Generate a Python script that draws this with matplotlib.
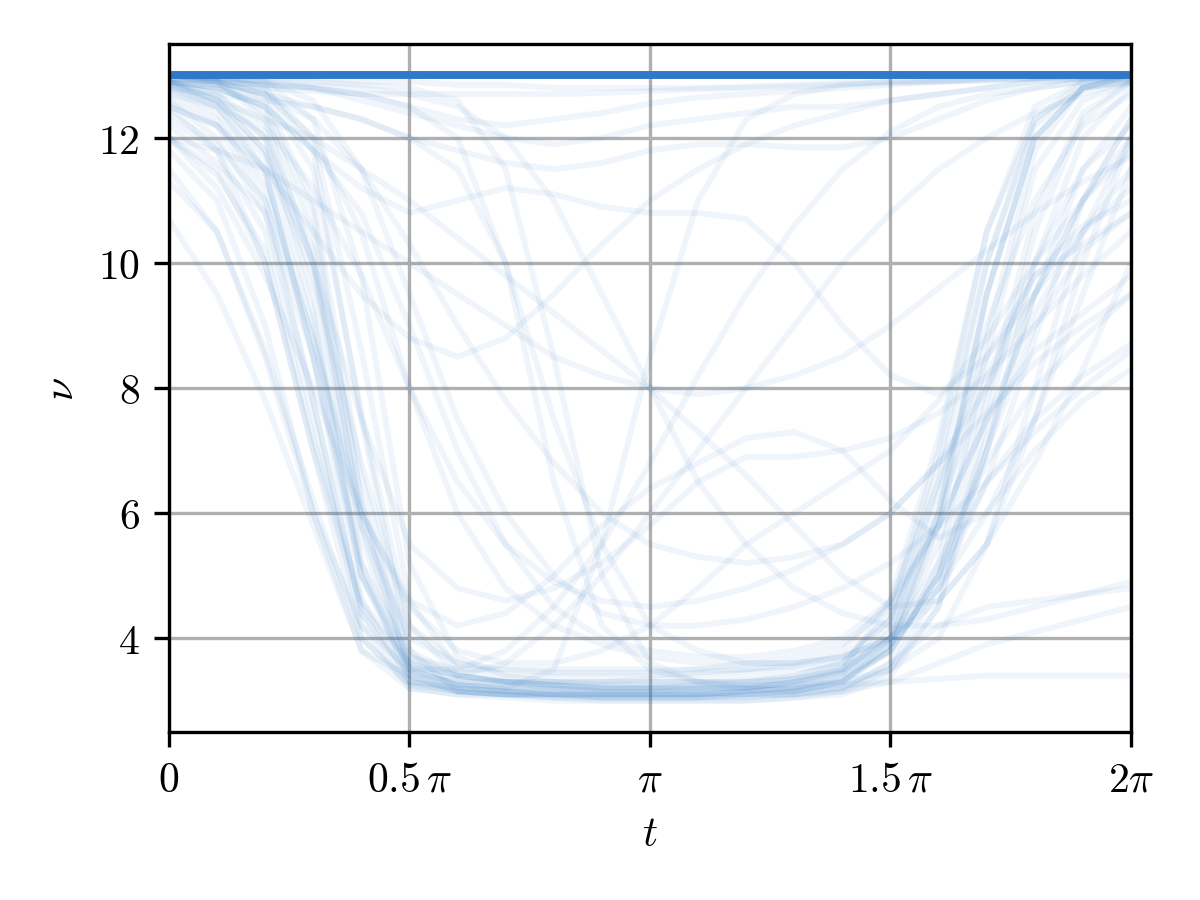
import numpy as np
import matplotlib
matplotlib.use("Agg")
import matplotlib.pyplot as plt

plt.rcParams["mathtext.fontset"] = "cm"
plt.rcParams["font.family"] = "serif"
plt.rcParams["font.serif"] = ["cmr10", "DejaVu Serif"]
plt.rcParams["axes.formatter.use_mathtext"] = True
plt.rcParams["font.size"] = 10

# sample times in units of pi
t_pi = [0.0, 0.1, 0.2, 0.3, 0.4, 0.5, 0.6, 0.7, 0.8, 0.9, 1.0,
        1.1, 1.2, 1.3, 1.4, 1.5, 1.6, 1.7, 1.8, 1.9, 2.0]

# reference trajectory
nu_ref = [13.0] * len(t_pi)

# sampled trajectories: deep U-shaped ones
u_runs = [
    [13.0, 13.0, 12.8, 11.8, 7.5, 3.8, 3.15, 3.1, 3.05, 3.0, 3.0, 3.0, 3.0, 3.05, 3.1, 3.4, 4.5, 7.5, 10.5, 12.3, 12.9],
    [13.0, 12.9, 12.3, 10.0, 5.6, 3.4, 3.15, 3.1, 3.1, 3.05, 3.05, 3.05, 3.1, 3.1, 3.2, 3.6, 5.2, 8.5, 11.5, 12.6, 12.9],
    [12.9, 12.7, 12.0, 9.5, 5.2, 3.3, 3.15, 3.1, 3.1, 3.1, 3.1, 3.1, 3.1, 3.15, 3.3, 3.9, 6.0, 9.5, 12.0, 12.8, 13.0],
    [12.8, 12.4, 11.5, 8.5, 4.6, 3.3, 3.2, 3.15, 3.1, 3.1, 3.1, 3.1, 3.15, 3.2, 3.35, 3.8, 5.0, 7.2, 9.5, 11.0, 12.0],
    [12.6, 12.2, 11.0, 7.8, 4.4, 3.4, 3.25, 3.2, 3.2, 3.15, 3.15, 3.2, 3.2, 3.3, 3.5, 4.2, 6.3, 9.0, 11.0, 12.2, 12.7],
    [12.3, 11.8, 10.5, 7.5, 4.2, 3.2, 3.1, 3.05, 3.0, 3.0, 3.0, 3.0, 3.0, 3.05, 3.15, 3.5, 4.8, 7.0, 9.0, 10.2, 10.8],
    [12.0, 11.5, 10.0, 7.0, 4.0, 3.25, 3.15, 3.1, 3.1, 3.05, 3.05, 3.05, 3.1, 3.15, 3.3, 3.9, 5.5, 8.0, 10.0, 11.5, 12.2],
    [11.8, 11.0, 9.0, 6.0, 3.8, 3.4, 3.3, 3.3, 3.25, 3.2, 3.2, 3.25, 3.3, 3.4, 3.6, 4.3, 6.0, 8.2, 9.8, 10.6, 11.0],
    [11.3, 10.5, 8.6, 6.2, 4.0, 3.3, 3.2, 3.15, 3.1, 3.1, 3.1, 3.1, 3.15, 3.2, 3.4, 4.0, 5.2, 6.8, 8.0, 8.8, 9.5],
    [10.7, 9.5, 7.8, 5.8, 3.8, 3.2, 3.1, 3.1, 3.1, 3.1, 3.1, 3.1, 3.1, 3.15, 3.3, 3.8, 5.0, 6.5, 7.5, 8.2, 8.7],
    [13.0, 12.9, 12.6, 11.0, 6.6, 3.8, 3.4, 3.3, 3.3, 3.3, 3.35, 3.4, 3.45, 3.5, 3.6, 4.0, 5.8, 8.8, 11.8, 12.8, 13.0],
    [12.9, 12.8, 12.5, 10.8, 6.2, 3.7, 3.5, 3.5, 3.45, 3.45, 3.45, 3.5, 3.5, 3.55, 3.7, 4.3, 6.8, 10.0, 12.3, 12.9, 13.0],
    [12.7, 12.5, 12.1, 10.2, 5.8, 3.5, 3.25, 3.2, 3.2, 3.2, 3.2, 3.2, 3.2, 3.3, 3.5, 4.6, 7.2, 10.5, 12.3, 12.8, 12.9],
    [12.5, 12.2, 11.4, 9.0, 5.0, 3.5, 3.35, 3.3, 3.3, 3.3, 3.3, 3.3, 3.3, 3.35, 3.5, 3.9, 4.8, 6.0, 7.0, 7.8, 8.3],
    [13.0, 12.95, 12.8, 12.0, 8.6, 4.6, 3.5, 3.3, 3.2, 3.15, 3.15, 3.15, 3.2, 3.25, 3.4, 3.8, 5.0, 7.8, 10.8, 12.4, 12.9],
    [12.95, 12.9, 12.7, 11.5, 7.6, 4.2, 3.4, 3.3, 3.25, 3.2, 3.2, 3.2, 3.2, 3.3, 3.45, 4.0, 6.0, 9.5, 12.0, 12.8, 13.0],
    [12.2, 11.6, 10.8, 8.5, 5.2, 3.7, 3.4, 3.3, 3.3, 3.25, 3.25, 3.3, 3.3, 3.35, 3.5, 4.0, 4.6, 5.5, 6.8, 8.3, 10.0],
    [12.9, 12.6, 11.8, 9.2, 5.0, 3.4, 3.15, 3.1, 3.05, 3.05, 3.05, 3.05, 3.05, 3.1, 3.2, 3.6, 4.2, 4.5, 4.6, 4.7, 4.8],
    [12.6, 12.0, 10.8, 7.8, 4.4, 3.3, 3.2, 3.15, 3.1, 3.1, 3.1, 3.1, 3.1, 3.1, 3.15, 3.3, 3.6, 3.9, 4.1, 4.3, 4.5],
    [12.0, 11.4, 10.2, 7.2, 4.6, 3.6, 3.4, 3.3, 3.25, 3.2, 3.2, 3.2, 3.2, 3.2, 3.25, 3.3, 3.35, 3.4, 3.4, 3.4, 3.4],
    [13.0, 13.0, 12.9, 12.3, 9.8, 5.2, 3.7, 3.4, 3.3, 3.3, 3.3, 3.3, 3.35, 3.4, 3.6, 4.4, 7.0, 10.5, 12.5, 12.9, 13.0],
    [12.8, 12.5, 11.7, 9.8, 6.8, 4.2, 3.6, 3.4, 3.4, 3.4, 3.4, 3.45, 3.5, 3.6, 3.8, 4.6, 6.5, 8.5, 9.8, 10.3, 10.8],
    [12.4, 11.9, 11.0, 8.8, 5.8, 4.0, 3.6, 3.5, 3.5, 3.5, 3.5, 3.5, 3.6, 3.7, 3.9, 4.5, 5.8, 7.5, 8.6, 9.2, 9.8],
    [13.0, 12.9, 12.4, 10.5, 6.2, 3.5, 3.25, 3.2, 3.15, 3.1, 3.1, 3.1, 3.15, 3.2, 3.3, 3.8, 5.8, 9.5, 12.0, 12.8, 12.95],
    [12.85, 12.6, 12.0, 10.0, 6.0, 3.5, 3.25, 3.2, 3.2, 3.2, 3.2, 3.2, 3.25, 3.3, 3.45, 4.1, 6.5, 10.0, 12.2, 12.8, 12.9],
]

# slower descents, late drops, rising and wandering trajectories
other_runs = [
    [13.0, 12.9, 12.7, 12.0, 10.5, 8.0, 6.0, 4.8, 4.2, 3.9, 3.7, 3.6, 3.6, 3.6, 3.7, 4.0, 5.0, 7.0, 9.5, 11.5, 12.5],
    [12.9, 12.8, 12.5, 11.8, 10.8, 9.0, 7.0, 5.5, 4.5, 4.0, 3.8, 3.7, 3.7, 3.8, 4.0, 4.6, 5.8, 7.5, 9.2, 10.5, 11.5],
    [12.9, 12.7, 12.2, 11.2, 9.8, 8.0, 6.5, 5.5, 4.9, 4.6, 4.5, 4.6, 4.8, 5.1, 5.5, 6.0, 6.8, 7.6, 8.4, 9.0, 9.5],
    [13.0, 12.95, 12.9, 12.6, 11.5, 9.5, 7.5, 6.0, 5.0, 4.4, 4.2, 4.2, 4.3, 4.5, 4.8, 5.2, 5.8, 6.5, 7.3, 8.0, 8.6],
    [13.0, 13.0, 12.95, 12.9, 12.85, 12.8, 12.6, 11.5, 8.5, 5.0, 3.6, 3.3, 3.2, 3.15, 3.2, 3.5, 4.5, 7.0, 10.0, 12.0, 12.8],
    [12.95, 12.9, 12.85, 12.8, 12.7, 12.5, 12.0, 10.0, 6.5, 4.2, 3.5, 3.3, 3.25, 3.25, 3.3, 3.5, 4.0, 5.5, 8.0, 10.5, 12.0],
    [12.8, 12.7, 12.6, 12.5, 12.3, 12.0, 11.5, 10.0, 7.5, 5.5, 4.2, 3.8, 3.6, 3.6, 3.7, 4.0, 4.8, 6.5, 8.8, 11.0, 12.3],
    [12.5, 11.8, 10.0, 7.0, 4.5, 3.6, 3.4, 3.6, 4.2, 5.0, 6.0, 7.0, 8.0, 9.0, 10.0, 10.8, 11.5, 12.0, 12.4, 12.7, 12.9],
    [11.5, 10.5, 8.5, 6.0, 4.2, 3.5, 3.5, 3.8, 4.5, 5.5, 6.8, 8.2, 9.5, 10.6, 11.5, 12.1, 12.5, 12.7, 12.8, 12.9, 12.95],
    [12.0, 11.2, 9.8, 8.0, 6.0, 4.5, 3.8, 3.6, 3.6, 3.8, 4.2, 4.8, 5.5, 6.0, 6.5, 7.0, 7.8, 8.8, 10.0, 11.0, 11.8],
    [12.9, 12.5, 11.5, 8.5, 5.0, 3.6, 3.3, 3.2, 3.5, 5.5, 8.5, 11.0, 12.3, 12.7, 12.85, 12.9, 12.9, 12.95, 12.95, 13.0, 13.0],
    [13.0, 13.0, 12.98, 12.95, 12.9, 12.9, 12.85, 12.85, 12.8, 12.8, 12.8, 12.8, 12.82, 12.85, 12.88, 12.9, 12.92, 12.95, 12.97, 12.98, 13.0],
    [12.9, 12.85, 12.8, 12.75, 12.7, 12.7, 12.7, 12.7, 12.7, 12.72, 12.75, 12.78, 12.8, 12.82, 12.85, 12.88, 12.9, 12.92, 12.95, 12.95, 12.97],
    [12.9, 12.8, 12.5, 11.8, 11.2, 10.8, 11.0, 11.2, 11.1, 10.9, 10.8, 10.8, 10.7, 10.0, 9.0, 8.2, 7.9, 8.5, 9.5, 10.5, 11.2],
    [12.9, 12.8, 12.7, 12.5, 12.3, 12.0, 11.8, 11.6, 11.5, 11.6, 11.8, 11.9, 11.9, 11.85, 11.85, 12.0, 12.3, 12.6, 12.8, 12.9, 13.0],
    [13.0, 12.95, 12.9, 12.8, 12.6, 12.4, 12.2, 12.0, 11.9, 12.0, 12.2, 12.3, 12.4, 12.5, 12.5, 12.6, 12.7, 12.8, 12.9, 12.95, 13.0],
    [12.95, 12.9, 12.85, 12.8, 12.7, 12.5, 12.3, 12.2, 12.3, 12.4, 12.55, 12.65, 12.7, 12.75, 12.8, 12.85, 12.9, 12.92, 12.95, 12.97, 13.0],
    [12.0, 11.8, 11.5, 11.0, 10.5, 10.0, 9.5, 9.0, 8.5, 8.2, 8.0, 7.9, 8.0, 8.2, 8.5, 9.0, 9.6, 10.2, 10.8, 11.3, 11.7],
    [13.0, 12.95, 12.9, 12.85, 12.8, 12.7, 12.5, 12.0, 11.0, 9.5, 8.0, 6.5, 5.5, 4.8, 4.4, 4.2, 4.2, 4.3, 4.5, 4.7, 4.9],
    [12.8, 12.6, 12.3, 12.0, 11.5, 11.0, 10.4, 9.8, 9.2, 8.6, 8.0, 7.3, 6.6, 5.8, 5.0, 4.5, 4.6, 5.5, 7.5, 10.0, 12.0],
    [12.5, 12.2, 11.5, 10.5, 9.5, 8.8, 8.5, 8.8, 9.5, 10.3, 11.0, 11.5, 11.9, 12.2, 12.4, 12.6, 12.7, 12.8, 12.9, 12.95, 13.0],
    [13.0, 12.9, 12.7, 12.3, 11.5, 10.3, 9.0, 7.8, 6.8, 6.0, 5.5, 5.3, 5.2, 5.3, 5.5, 6.0, 6.8, 8.0, 9.5, 11.0, 12.3],
    [12.9, 12.6, 11.8, 10.0, 7.5, 5.5, 4.8, 4.6, 4.8, 5.2, 5.8, 6.5, 6.9, 6.9, 7.0, 7.2, 7.6, 8.2, 9.0, 9.8, 10.5],
    [12.7, 12.3, 11.2, 8.8, 6.0, 4.6, 4.2, 4.4, 5.0, 5.8, 6.4, 6.8, 7.2, 7.3, 7.0, 6.2, 5.6, 6.0, 7.5, 9.5, 11.5],
]

line_color = "#3079c6"
t = np.array(t_pi) * np.pi

fig = plt.figure(figsize=(4.0, 3.003), dpi=300)
ax = fig.add_axes([0.1408, 0.1865, 0.8017, 0.7635])

for run in u_runs + other_runs:
    ax.plot(t, run, color=line_color, alpha=0.075, lw=1.4)
ax.plot(t, nu_ref, color=line_color, lw=1.9)

ax.set_xlim(0, 2 * np.pi)
ax.set_ylim(2.5, 13.5)
ax.set_xticks([0, 0.5 * np.pi, np.pi, 1.5 * np.pi, 2 * np.pi])
ax.set_xticklabels([r"$0$", r"$0.5\,\pi$", r"$\pi$", r"$1.5\,\pi$", r"$2\pi$"])
ax.set_yticks([4, 6, 8, 10, 12])
ax.set_yticklabels([r"$4$", r"$6$", r"$8$", r"$10$", r"$12$"])
ax.set_xlabel(r"$t$")
ax.set_ylabel(r"$\nu$")
ax.grid(True, color="#b0b0b0", lw=0.8)
ax.set_axisbelow(True)
for sp in ax.spines.values():
    sp.set_linewidth(0.8)
ax.tick_params(width=0.8, length=3.5)

fig.savefig("out.png", dpi=300)
